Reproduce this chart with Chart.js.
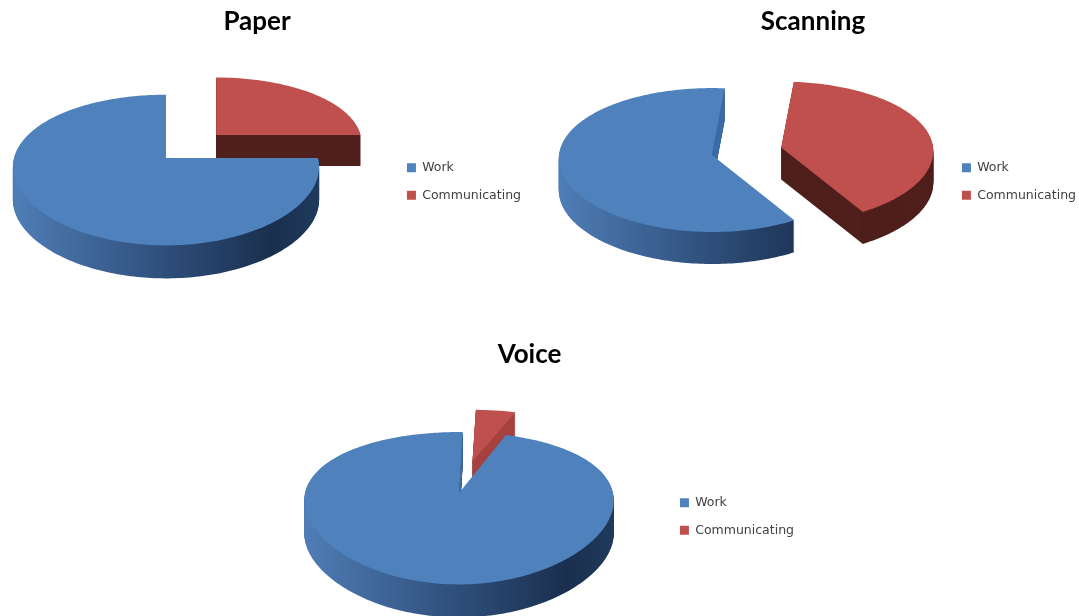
<!DOCTYPE html>
<html>
<head>
<meta charset="utf-8">
<title>Work and communicating time</title>
<script src="https://cdn.jsdelivr.net/npm/chart.js@4"></script>
<style>
    html, body { margin: 0; background: #fff; overflow: hidden; height: 100%; }
    canvas { position: absolute; }
</style>
</head>
<body>
<canvas id="paper" style="left:-17px;top:0" width="548" height="363"></canvas>
<canvas id="scanning" style="left:540px;top:0" width="546" height="363"></canvas>
<canvas id="voice" style="left:255px;top:333px" width="549" height="367"></canvas>
<script>
const categories = ['Work', 'Communicating'];
const paperValues = [75, 25];
const scanningValues = [60, 40];
const voiceValues = [95, 5];

const workColor = '#4f81bd';
const commColor = '#c0504d';

// pie geometry per chart, in canvas pixels
const paperView = { x: 183, y: 158, radius: 152, rotation: 90, explode: [0, 71], tilt: 0.483, persp: 0.16, perspX: 0.12, depth: 33, commSide: '#4f1f1c' };
const scanningView = { x: 172, y: 155, radius: 153, rotation: 149, explode: [0, 71], tilt: 0.468, persp: 0.07, perspX: 0.05, depth: 32, commSide: '#4f1f1c' };
const voiceView = { x: 204, y: 160, radius: 154, rotation: 19.5, explode: [0, 74], tilt: 0.475, persp: 0.2, perspX: 0.1, depth: 33, commSide: '#a5413e' };

function outline(el, view) {
    const r = el.outerRadius;
    const mid = (el.startAngle + el.endAngle) / 2;
    const off = (el.options.offset || 0) / r;
    const ou = Math.cos(mid) * off;
    const ov = Math.sin(mid) * off;
    // slices pushed away from the viewer come out a little smaller
    const scale = 1 / (1 - view.persp * ov);
    const project = (u, v) => [
        view.x + r * u,
        view.y + r * view.tilt * v / (1 - view.persp * v)
    ];
    const pts = [project(ou, ov)];
    const steps = Math.ceil((el.endAngle - el.startAngle) / 0.02);
    for (let i = 0; i <= steps; i++) {
        const a = el.startAngle + (el.endAngle - el.startAngle) * i / steps;
        const rim = Math.cos(a) * scale / (1 - view.perspX * Math.sin(a));
        pts.push(project(ou + rim, ov + Math.sin(a)));
    }
    return { pts, depth: view.depth * scale };
}

function fillPoly(ctx, pts, dy, fill) {
    ctx.beginPath();
    pts.forEach((p, i) => i ? ctx.lineTo(p[0], p[1] + dy) : ctx.moveTo(p[0], p[1] + dy));
    ctx.closePath();
    ctx.fillStyle = fill;
    ctx.fill();
}

// extruded, tilted slices built from the arc angles the pie controller computed
const pie3d = {
    id: 'pie3d',
    beforeDatasetDraw(chart, args) {
        const view = chart.options.plugins.pie3d.view;
        const ctx = chart.ctx;
        const arcs = args.meta.data.map((el, i) => ({ el, i, mid: (el.startAngle + el.endAngle) / 2 }));
        const r = arcs[0].el.outerRadius;
        const wall = ctx.createLinearGradient(view.x - r, 0, view.x + r, 0);
        wall.addColorStop(0, '#4f7db6');
        wall.addColorStop(0.5, '#2e4e7a');
        wall.addColorStop(0.85, '#1a2f4e');
        wall.addColorStop(1, '#1f3a5c');
        // far slice first so the near one covers it
        arcs.sort((a, b) => Math.sin(a.mid) - Math.sin(b.mid));
        arcs.forEach(({ el, i }) => {
            const { pts, depth } = outline(el, view);
            const side = i === 0 ? wall : view.commSide;
            for (let d = Math.round(depth); d >= 1; d--) fillPoly(ctx, pts, d, side);
            if (i === 0) {
                const apex = pts[0], end = pts[pts.length - 1];
                fillPoly(ctx, [apex, end, [end[0], end[1] + depth], [apex[0], apex[1] + depth]], 0, '#3b6aa6');
            }
            fillPoly(ctx, pts, 0, el.options.backgroundColor);
        });
        return false;
    }
};

function pieChart(id, values, view, titleText) {
    new Chart(document.getElementById(id), {
        type: 'pie',
        data: {
            labels: categories,
            datasets: [{
                data: values,
                backgroundColor: [workColor, commColor],
                borderWidth: 0,
                offset: view.explode,
                radius: view.radius
            }]
        },
        options: {
            responsive: false,
            animation: false,
            rotation: view.rotation,
            plugins: {
                pie3d: { view },
                tooltip: { enabled: false },
                title: {
                    display: true,
                    text: titleText,
                    color: '#000',
                    font: { family: 'Lato', size: 26, weight: 'bold' },
                    padding: { top: 6, bottom: 20 }
                },
                legend: {
                    position: 'right',
                    labels: {
                        boxWidth: 9,
                        boxHeight: 9,
                        padding: 15,
                        color: '#404040',
                        font: { family: 'DejaVu Sans', size: 12.5 }
                    }
                }
            }
        },
        plugins: [pie3d]
    });
}

pieChart('paper', paperValues, paperView, 'Paper');
pieChart('scanning', scanningValues, scanningView, 'Scanning');
pieChart('voice', voiceValues, voiceView, 'Voice');
</script>
</body>
</html>
